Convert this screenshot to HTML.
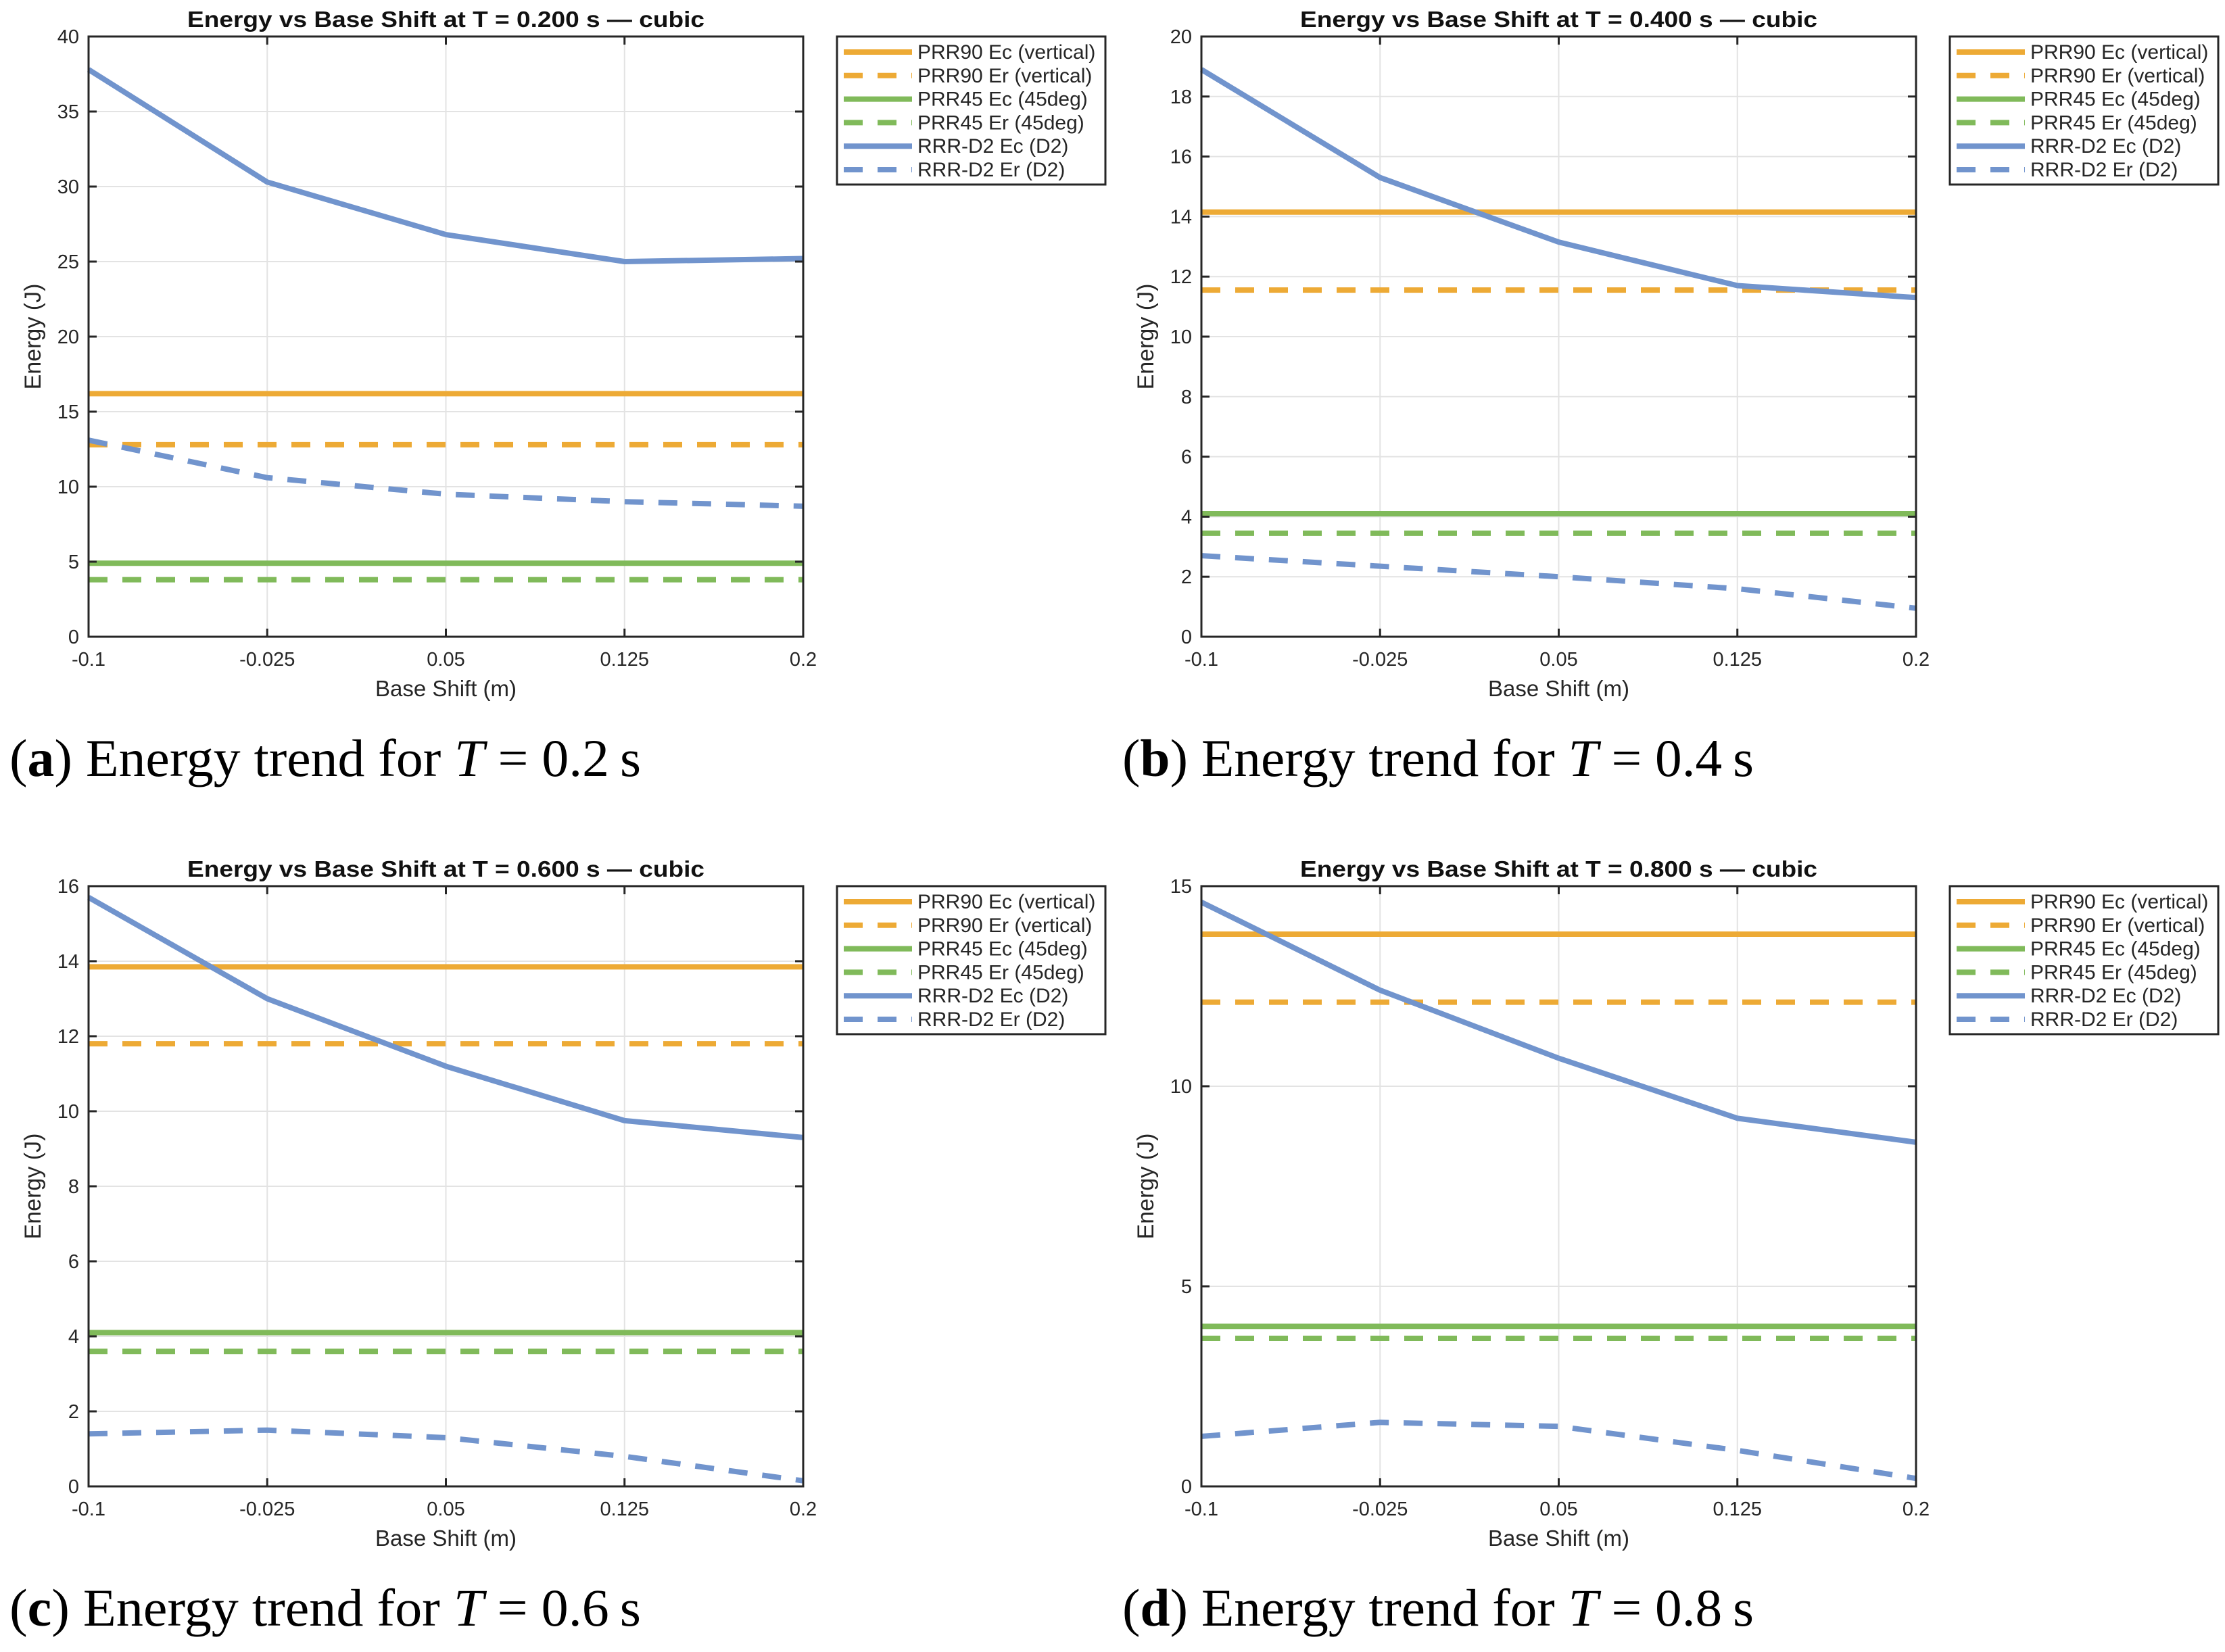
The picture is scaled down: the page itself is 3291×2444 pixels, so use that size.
<!DOCTYPE html>
<html><head><meta charset="utf-8"><style>
html,body{margin:0;padding:0;background:#fff;}
svg{display:block;}
</style></head><body>
<svg id="fig" width="3291" height="2444" viewBox="0 0 3291 2444" xmlns="http://www.w3.org/2000/svg"></svg>
<script>
// Shared categories
const xCats = [-0.1, -0.025, 0.05, 0.125, 0.2];
const xTickLabels = ['-0.1', '-0.025', '0.05', '0.125', '0.2'];
// Panel a (T=0.2)
const aPRR90Ec = 16.2, aPRR90Er = 12.8, aPRR45Ec = 4.9, aPRR45Er = 3.8;
const aD2Ec = [37.8, 30.3, 26.8, 25.0, 25.2];
const aD2Er = [13.1, 10.6, 9.5, 9.0, 8.7];
const aYTicks = [0, 5, 10, 15, 20, 25, 30, 35, 40];
// Panel b (T=0.4)
const bPRR90Ec = 14.15, bPRR90Er = 11.55, bPRR45Ec = 4.1, bPRR45Er = 3.45;
const bD2Ec = [18.9, 15.3, 13.15, 11.7, 11.3];
const bD2Er = [2.7, 2.35, 2.0, 1.6, 0.95];
const bYTicks = [0, 2, 4, 6, 8, 10, 12, 14, 16, 18, 20];
// Panel c (T=0.6)
const cPRR90Ec = 13.85, cPRR90Er = 11.8, cPRR45Ec = 4.1, cPRR45Er = 3.6;
const cD2Ec = [15.7, 13.0, 11.2, 9.75, 9.3];
const cD2Er = [1.4, 1.5, 1.3, 0.8, 0.15];
const cYTicks = [0, 2, 4, 6, 8, 10, 12, 14, 16];
// Panel d (T=0.8)
const dPRR90Ec = 13.8, dPRR90Er = 12.1, dPRR45Ec = 4.0, dPRR45Er = 3.7;
const dD2Ec = [14.6, 12.4, 10.7, 9.2, 8.6];
const dD2Er = [1.25, 1.6, 1.5, 0.9, 0.2];
const dYTicks = [0, 5, 10, 15];

const legendLabels = ['PRR90 Ec (vertical)','PRR90 Er (vertical)','PRR45 Ec (45deg)','PRR45 Er (45deg)','RRR-D2 Ec (D2)','RRR-D2 Er (D2)'];

const NS = 'http://www.w3.org/2000/svg';
const svg = document.getElementById('fig');
const ORANGE = '#EDAA35', GREEN = '#80BA5A', BLUE = '#7194CD';
const DASH = '28 22';

function mk(tag, attrs, parent) {
  const e = document.createElementNS(NS, tag);
  for (const k in attrs) e.setAttribute(k, attrs[k]);
  (parent || svg).appendChild(e);
  return e;
}

function panel(key, ox, oy, tStr, capLetter, capT, p90c, p90r, p45c, p45r, d2c, d2r, yTicks) {
  const L = ox + 131, T = oy + 54, R = ox + 1188, B = oy + 942;
  const ymax = yTicks[yTicks.length - 1];
  const xs = v => L + (v - xCats[0]) / (xCats[xCats.length - 1] - xCats[0]) * (R - L);
  const ys = v => B - v / ymax * (B - T);
  const g = mk('g', {});
  
  
  xCats.forEach(v => { if (v !== xCats[0] && v !== xCats[xCats.length-1]) {
    const l = mk('line', {x1: xs(v), x2: xs(v), y1: T, y2: B, stroke: '#e3e3e3', 'stroke-width': 2}, g);
      }});
  yTicks.forEach(v => { if (v !== 0 && v !== ymax) {
    const l = mk('line', {x1: L, x2: R, y1: ys(v), y2: ys(v), stroke: '#e3e3e3', 'stroke-width': 2}, g);
      }});
  const hline = (v, col, dash, name) => {
    const l = mk('line', {x1: L, x2: R, y1: ys(v), y2: ys(v), stroke: col, 'stroke-width': 8}, g);
    if (dash) l.setAttribute('stroke-dasharray', DASH);
     
  };
  hline(p90c, ORANGE, false, 'prr90-ec-line');
  hline(p90r, ORANGE, true, 'prr90-er-line');
  hline(p45c, GREEN, false, 'prr45-ec-line');
  hline(p45r, GREEN, true, 'prr45-er-line');
  const poly = (arr, dash, name) => {
    const pl = mk('polyline', {points: arr.map((v, i) => xs(xCats[i]) + ',' + ys(v)).join(' '), fill: 'none', stroke: BLUE, 'stroke-width': 8, 'stroke-linejoin': 'round'}, g);
    if (dash) pl.setAttribute('stroke-dasharray', DASH);
     
  };
  poly(d2c, false, 'rrr-d2-ec-line');
  poly(d2r, true, 'rrr-d2-er-line');
  const box = mk('rect', {x: L, y: T, width: R - L, height: B - T, fill: 'none', stroke: '#262626', 'stroke-width': 3}, g);
   
  xCats.forEach((v, i) => {
    mk('line', {x1: xs(v), x2: xs(v), y1: B, y2: B - 12, stroke: '#262626', 'stroke-width': 3}, g);
    mk('line', {x1: xs(v), x2: xs(v), y1: T, y2: T + 12, stroke: '#262626', 'stroke-width': 3}, g);
    const t = mk('text', {x: xs(v), y: B + 43, 'text-anchor': 'middle', 'font-size': 29, fill: '#262626', 'font-family': 'Liberation Sans, sans-serif'}, g);
    t.textContent = xTickLabels[i];
     
  });
  yTicks.forEach(v => {
    mk('line', {x1: L, x2: L + 12, y1: ys(v), y2: ys(v), stroke: '#262626', 'stroke-width': 3}, g);
    mk('line', {x1: R, x2: R - 12, y1: ys(v), y2: ys(v), stroke: '#262626', 'stroke-width': 3}, g);
    const t = mk('text', {x: L - 14, y: ys(v) + 10, 'text-anchor': 'end', 'font-size': 29, fill: '#262626', 'font-family': 'Liberation Sans, sans-serif'}, g);
    t.textContent = String(v);
     
  });
  const xl = mk('text', {x: (L + R) / 2, y: B + 88, 'text-anchor': 'middle', 'font-size': 33, fill: '#262626', 'font-family': 'Liberation Sans, sans-serif'}, g);
  xl.textContent = 'Base Shift (m)';
   
  const yl = mk('text', {x: 0, y: 0, 'text-anchor': 'middle', 'font-size': 34, fill: '#262626', 'font-family': 'Liberation Sans, sans-serif', transform: 'translate(' + (ox + 60) + ',' + ((T + B) / 2) + ') rotate(-90)'}, g);
  yl.textContent = 'Energy (J)';
   
  const tt = mk('text', {x: (L + R) / 2, y: oy + 40, 'text-anchor': 'middle', 'font-size': 33, 'font-weight': 'bold', fill: '#111', 'font-family': 'Liberation Sans, sans-serif', textLength: 765, lengthAdjust: 'spacingAndGlyphs'}, g);
  tt.textContent = 'Energy vs Base Shift at T = ' + tStr + ' s \u2014 cubic';
   
  const lg = mk('g', {}, g);
   
  mk('rect', {x: ox + 1238, y: oy + 54, width: 397, height: 219, fill: '#fff', stroke: '#262626', 'stroke-width': 3}, lg);
  const cols = [ORANGE, ORANGE, GREEN, GREEN, BLUE, BLUE];
  legendLabels.forEach((lab, i) => {
    const y = oy + 77 + i * 34.8;
    const e = mk('g', {}, lg);
     
    const l = mk('line', {x1: ox + 1248, x2: ox + 1349, y1: y, y2: y, stroke: cols[i], 'stroke-width': 8}, e);
    if (i % 2 === 1) l.setAttribute('stroke-dasharray', DASH);
    const t = mk('text', {x: ox + 1357, y: y + 10, 'font-size': 30, fill: '#262626', 'font-family': 'Liberation Sans, sans-serif'}, e);
    t.textContent = lab;
  });
  const cap = mk('text', {x: ox + 14, y: oy + 1148, 'font-size': 78, fill: '#000', 'font-family': 'Liberation Serif, serif', textLength: 934, lengthAdjust: 'spacingAndGlyphs'}, g);
   
  cap.innerHTML = '(<tspan font-weight="bold">' + capLetter + '</tspan>) Energy trend for <tspan font-style="italic">T</tspan> = ' + capT + '\u2009s';
}

panel('a', 0, 0, '0.200', 'a', '0.2', aPRR90Ec, aPRR90Er, aPRR45Ec, aPRR45Er, aD2Ec, aD2Er, aYTicks);
panel('b', 1646, 0, '0.400', 'b', '0.4', bPRR90Ec, bPRR90Er, bPRR45Ec, bPRR45Er, bD2Ec, bD2Er, bYTicks);
panel('c', 0, 1257, '0.600', 'c', '0.6', cPRR90Ec, cPRR90Er, cPRR45Ec, cPRR45Er, cD2Ec, cD2Er, cYTicks);
panel('d', 1646, 1257, '0.800', 'd', '0.8', dPRR90Ec, dPRR90Er, dPRR45Ec, dPRR45Er, dD2Ec, dD2Er, dYTicks);
</script>
</body></html>
